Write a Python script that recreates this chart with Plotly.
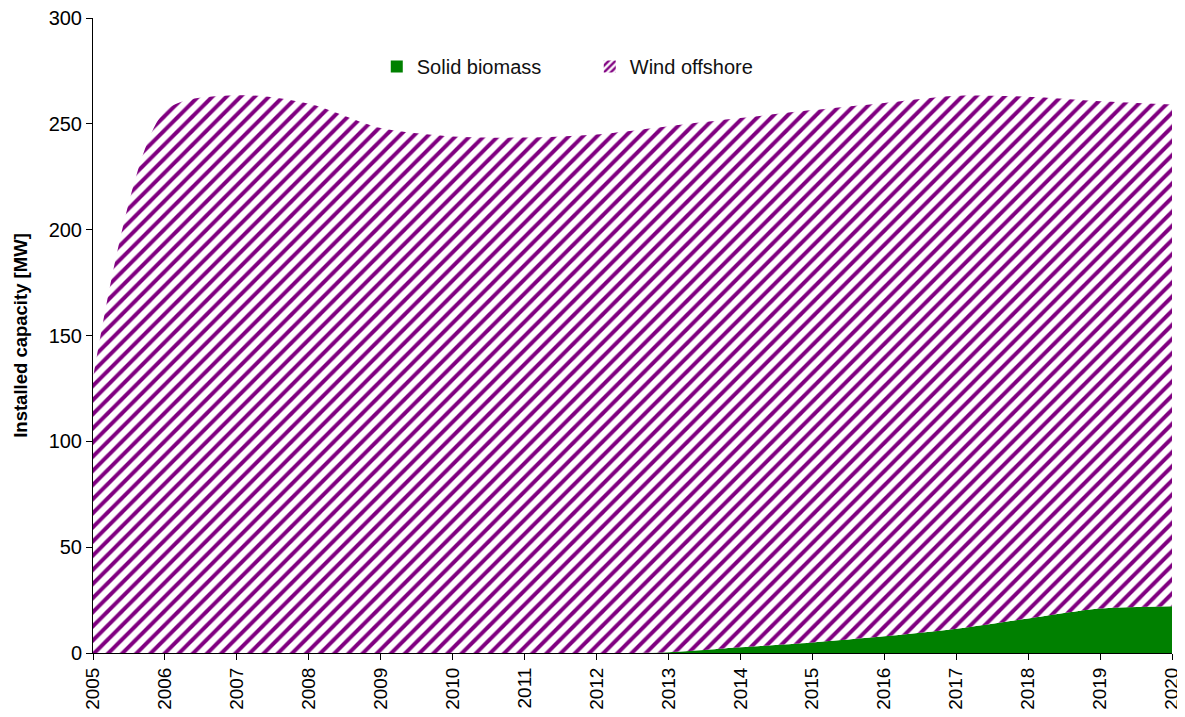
import plotly.graph_objects as go

years = list(range(2005, 2021))
solid_biomass = [0, 0, 0, 0, 0, 0, 0, 0, 0.4, 2.7, 5.0, 7.9, 11.5, 16.3, 21.0, 22.1]
wind_offshore = [130, 256, 263.5, 259.5, 248, 244, 243.5, 245, 248.5, 250, 251.5, 252, 251.8, 246.5, 239.7, 237]
y_ticks = [0, 50, 100, 150, 200, 250, 300]

FONT = "Liberation Sans, Arial, sans-serif"
GREEN = "#008000"
PURPLE = "#800080"
PATTERN = dict(shape="/", fgcolor=PURPLE, bgcolor="white", size=10, solidity=0.4, fgopacity=1)

fig = go.Figure()
fig.add_trace(go.Scatter(
    x=years, y=solid_biomass, name="Solid biomass", stackgroup="one", showlegend=False,
    mode="lines", line=dict(width=0, shape="spline", smoothing=0.8, color=GREEN),
    fillcolor=GREEN,
))
fig.add_trace(go.Scatter(
    x=years, y=wind_offshore, name="Wind offshore", stackgroup="one", showlegend=False,
    mode="lines", line=dict(width=0, shape="spline", smoothing=0.8, color=PURPLE),
    fillcolor="white", fillpattern=PATTERN,
))
# legend entries (square swatches)
fig.add_trace(go.Bar(x=[None], y=[None], name="Solid biomass", marker=dict(color=GREEN, line=dict(width=0))))
fig.add_trace(go.Bar(x=[None], y=[None], name="Wind offshore",
                     marker=dict(color="white", pattern=dict(shape="/", fgcolor=PURPLE, bgcolor="white",
                                                             size=6, solidity=0.5, fgopacity=1),
                                 line=dict(width=0))))

# the page body adds an 8px offset, so the figure is sized to fit the window
fig.update_layout(
    width=1177, height=709,
    margin=dict(l=85, r=13, t=10, b=64),
    paper_bgcolor="white", plot_bgcolor="white",
    font=dict(family=FONT, size=18, color="black"),
    showlegend=True,
    legend=dict(
        orientation="h", x=0.263, y=0.9235, xanchor="left", yanchor="middle", traceorder="normal",
        font=dict(family=FONT, size=20, color="#111111"),
        bgcolor="rgba(0,0,0,0)", entrywidth=168, itemwidth=30,
    ),
    xaxis=dict(
        range=[2005, 2020], tickmode="array", tickvals=years, ticktext=[str(y) for y in years],
        tickangle=-90, showgrid=False, zeroline=False, showline=True, linecolor="black",
        linewidth=1, ticks="outside", ticklen=6, tickcolor="black", automargin=False,
        tickfont=dict(family=FONT, size=19), ticklabeloverflow="allow",
    ),
    yaxis=dict(
        range=[0, 300], tickmode="array", tickvals=y_ticks, showgrid=False, zeroline=False,
        showline=True, linecolor="black", linewidth=1, ticks="outside", ticklen=6,
        tickcolor="black", tickfont=dict(family=FONT, size=20), automargin=False,
        ticklabeloverflow="allow",
        title=dict(text="<b>Installed capacity [MW]</b>", font=dict(family=FONT, size=18.5), standoff=16),
    ),
)

fig.write_html("out.html")
